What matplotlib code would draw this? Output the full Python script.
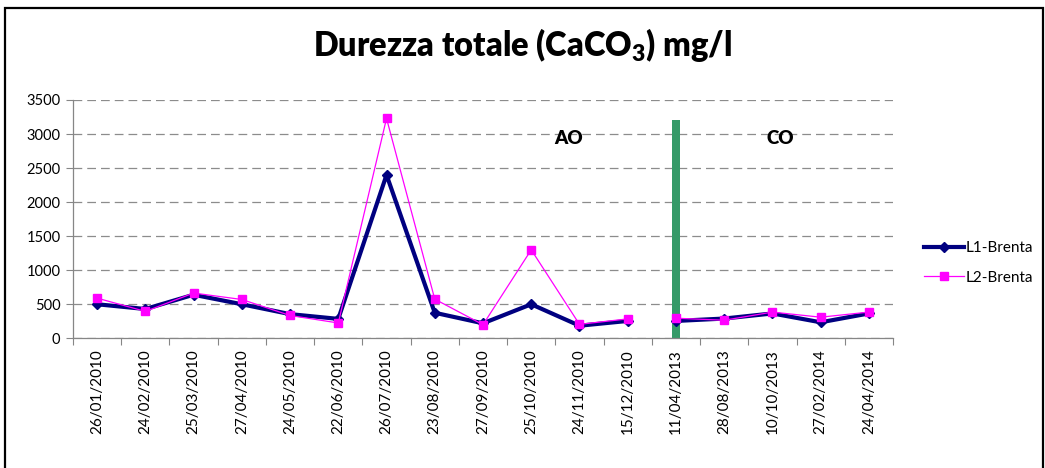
import numpy as np
import matplotlib
matplotlib.use('Agg')
import matplotlib.pyplot as plt
from matplotlib.patches import Rectangle

plt.rcParams['font.family'] = ['Lato', 'DejaVu Sans']
plt.rcParams['mathtext.fontset'] = 'custom'
plt.rcParams['mathtext.rm'] = 'Lato'
plt.rcParams['mathtext.bf'] = 'Lato:heavy'

# Sampling dates (categories)
dates = ['26/01/2010', '24/02/2010', '25/03/2010', '27/04/2010', '24/05/2010',
         '22/06/2010', '26/07/2010', '23/08/2010', '27/09/2010', '25/10/2010',
         '24/11/2010', '15/12/2010', '11/04/2013', '28/08/2013', '10/10/2013',
         '27/02/2014', '24/04/2014']

# Total hardness (CaCO3) mg/l
l1_brenta = [500, 430, 640, 500, 355, 285, 2400, 375, 220, 500, 185, 255,
             255, 290, 365, 235, 365]
l2_brenta = [590, 395, 665, 570, 335, 225, 3230, 575, 200, 1300, 205, 285,
             295, 265, 385, 310, 385]

# period separator (AO / CO), drawn at 11/04/2013
sep_index = 12
sep_height = 3200

x = np.arange(len(dates))
# the series are not joined across the two periods
y1 = np.array(l1_brenta, dtype=float)
y2 = np.array(l2_brenta, dtype=float)
x_plot = np.insert(x.astype(float), sep_index, np.nan)
y1_plot = np.insert(y1, sep_index, np.nan)
y2_plot = np.insert(y2, sep_index, np.nan)

fig = plt.figure(figsize=(10.45, 4.68), dpi=100)
ax = fig.add_axes([73 / 1045, 1 - 338.3 / 468, 820 / 1045, 238.3 / 468])

# outer chart border
fig.patches.append(Rectangle((5 / 1045, -0.05), 1038 / 1045, 1.05 - 8 / 468,
                             transform=fig.transFigure, fill=False,
                             edgecolor='black', linewidth=1.6))

ax.bar(sep_index, sep_height, width=0.17, color='#359a68', zorder=2)

ax.plot(x_plot, y1_plot, color='#000080', linewidth=3.0, marker='D',
        markersize=5.5, label='L1-Brenta', zorder=3)
ax.plot(x_plot, y2_plot, color='#ff00ff', linewidth=0.9, marker='s',
        markersize=6, label='L2-Brenta', zorder=4)

ax.set_xlim(-0.5, len(dates) - 0.5)
ax.set_ylim(0, 3500)
ax.set_yticks(np.arange(0, 3501, 500))
ax.set_xticks(x)
ax.set_xticklabels(dates, rotation=90, fontsize=11)
ax.set_xticks(np.arange(-0.5, len(dates), 1), minor=True)
ax.tick_params(axis='x', which='major', length=0, pad=8)
ax.tick_params(axis='x', which='minor', length=5, color='#868686', width=0.8)
ax.tick_params(axis='y', length=5, color='#868686', width=0.8, labelsize=10.5, pad=4)

ax.yaxis.grid(True, linestyle=(0, (7, 4)), color='#8c8c8c', linewidth=0.9)
ax.set_axisbelow(True)
for side in ['top', 'right']:
    ax.spines[side].set_visible(False)
for side in ['left', 'bottom']:
    ax.spines[side].set_color('#868686')
    ax.spines[side].set_linewidth(0.9)

ax.text(9.77, 2940, 'AO', fontsize=13.5, fontweight='heavy', ha='center', va='center')
ax.text(14.17, 2940, 'CO', fontsize=13.5, fontweight='heavy', ha='center', va='center')

fig.text(523 / 1045, 1 - 45 / 468, r'Durezza totale (CaCO$_\mathbf{3}$) mg/l',
         fontsize=23.5, fontweight='heavy', ha='center', va='center')

fig.legend(loc='center left', bbox_to_anchor=(924 / 1045, 1 - 263 / 468),
           frameon=False, fontsize=11, handlelength=2.6, handletextpad=0.15,
           labelspacing=1.0, borderaxespad=0, borderpad=0)

fig.savefig('out.png', dpi=100)
